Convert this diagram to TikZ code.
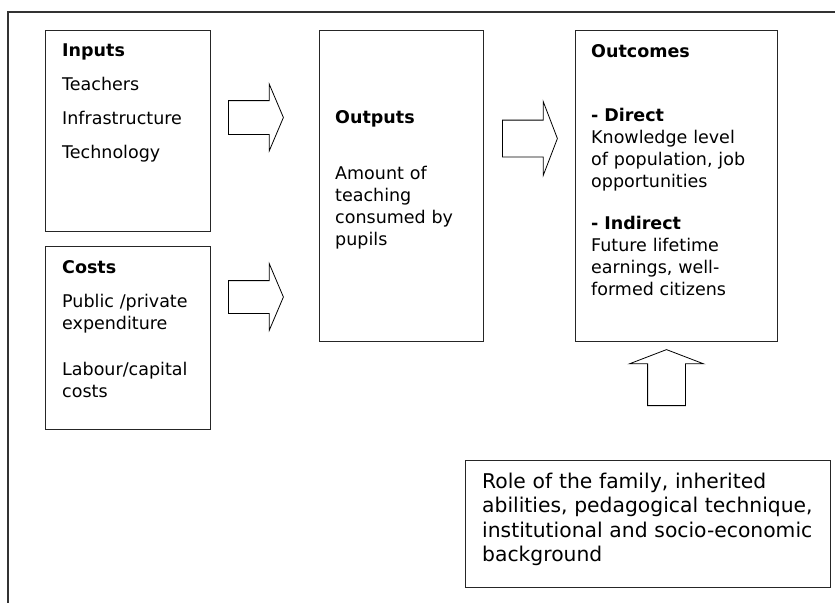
\documentclass[tikz,border=0pt]{standalone}
\usepackage{fontspec}
\setmainfont{DejaVu Sans}
\usetikzlibrary{shapes.arrows}
\tikzset{
  framebox/.style={rectangle, draw=black!85, line width=0.9pt, inner sep=0pt,
                   anchor=north west},
  boxtext/.style={anchor=base west, inner sep=0pt, text width=#1, align=left,
                  font=\fontsize{17.5}{22}\selectfont},
  boxtext/.default=150pt,
  blockarrow/.style={single arrow, draw=black, line width=0.8pt, fill=white,
                     inner xsep=0pt, anchor=tail, minimum height=55pt},
}

\begin{document}
\begin{tikzpicture}[
    x=1pt,
    y=-1pt,
    frameline/.style={draw=black!80, line width=1.1pt},
  ]
    \useasboundingbox (0,0) rectangle (835,603);
    \draw[frameline] (835,12) -- (8,12) -- (8,603);

    % Left column: inputs and costs
    \node[framebox, minimum width=165pt, minimum height=201pt] (inputs) at (45,30) {};
    \node[framebox, minimum width=165pt, minimum height=183pt] (costs) at (45,246) {};
    \node[boxtext, xshift=17pt, yshift=-26pt] (inputs_txt) at (inputs.north west)
      {\textbf{Inputs}\\[12pt] Teachers\\[12pt] Infrastructure\\[12pt] Technology};
    \node[boxtext, xshift=17pt, yshift=-27pt] (costs_txt) at (costs.north west)
      {\textbf{Costs}\\[12pt] Public /private\\ expenditure\\[24pt] Labour/capital\\ costs};

    % Middle column: outputs
    \node[framebox, minimum width=164pt, minimum height=311pt] (outputs) at (319,30) {};
    \node[boxtext, xshift=16pt, yshift=-93pt] (outputs_txt) at (outputs.north west)
      {\textbf{Outputs}\\[34pt] Amount of\\ teaching\\ consumed by\\ pupils};

    % Right column: outcomes
    \node[framebox, minimum width=202pt, minimum height=311pt] (outcomes) at (575,30) {};
    \node[boxtext=185pt, xshift=16pt, yshift=-27pt] (outcomes_txt) at (outcomes.north west)
      {\textbf{Outcomes}\\[42pt] \textbf{- Direct}\\ Knowledge level\\ of population, job\\
       opportunities\\[20pt] \textbf{- Indirect}\\ Future lifetime\\ earnings, well-\\ formed citizens};

    % Bottom: background factors
    \node[framebox, minimum width=365pt, minimum height=127pt] (role) at (465,460) {};
    \node[boxtext=345pt, xshift=17pt, yshift=-28pt, font=\fontsize{20.3}{24.5}\selectfont]
      (role_txt) at (role.north west)
      {Role of the family, inherited\\ abilities, pedagogical technique,\\
       institutional and socio-economic\\ background};

    % Block arrows between the boxes
    \node[blockarrow, inner ysep=16.5pt, single arrow head extend=16.5pt,
          single arrow tip angle=134] (arr_inputs) at (228,117.5) {};
    \node[blockarrow, inner ysep=16pt, single arrow head extend=17pt,
          single arrow tip angle=134] (arr_costs) at (228,297) {};
    \node[blockarrow, inner ysep=18pt, single arrow head extend=18.5pt,
          single arrow tip angle=138] (arr_outputs) at (502,138.5) {};
    \node[blockarrow, rotate=90, minimum height=56pt, inner ysep=18.5pt,
          single arrow head extend=18pt, single arrow tip angle=138] (arr_role) at (666.5,406) {};
  \end{tikzpicture}
\end{document}
